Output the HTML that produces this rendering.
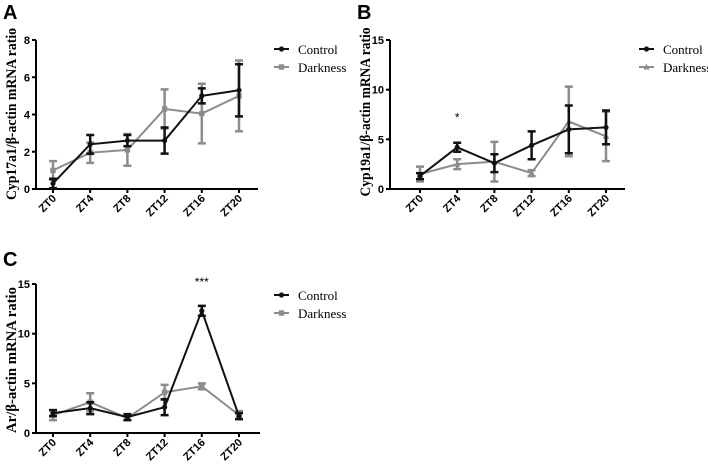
<!DOCTYPE html>
<html><head><meta charset="utf-8"><style>
body{margin:0;background:#fff;width:708px;height:469px;overflow:hidden}
svg{display:block}
</style></head><body>
<svg id="fig" width="708" height="469" xmlns="http://www.w3.org/2000/svg"></svg>
<script>
const categories=["ZT0","ZT4","ZT8","ZT12","ZT16","ZT20"];
const aControl=[0.3,2.4,2.6,2.6,5.0,5.3];
const aControlErr=[0.25,0.5,0.3,0.7,0.4,1.4];
const aDark=[1.0,1.95,2.1,4.3,4.05,5.0];
const aDarkErr=[0.5,0.55,0.85,1.05,1.6,1.9];
const aTicks=[0,2,4,6,8];
const bControl=[1.3,4.2,2.6,4.4,6.0,6.2];
const bControlErr=[0.3,0.45,0.9,1.4,2.4,1.7];
const bDark=[1.5,2.5,2.75,1.6,6.8,5.3];
const bDarkErr=[0.75,0.5,2.0,0.3,3.5,2.5];
const bTicks=[0,5,10,15];
const cControl=[2.0,2.5,1.6,2.6,12.3,1.7];
const cControlErr=[0.3,0.6,0.3,0.8,0.5,0.3];
const cDark=[1.8,3.1,1.5,4.1,4.7,1.8];
const cDarkErr=[0.5,0.9,0.2,0.75,0.3,0.4];
const cTicks=[0,5,10,15];

const NS="http://www.w3.org/2000/svg";
const svg=document.getElementById('fig');
function mk(tag,attrs,parent,text){const e=document.createElementNS(NS,tag);for(const k in attrs)e.setAttribute(k,attrs[k]);if(text!==undefined)e.textContent=text;(parent||svg).appendChild(e);return e;}

function panel(o){
  const g=mk('g',{});
  
  
  const ymax=o.ticks[o.ticks.length-1];
  const y=v=>o.y0-(v/ymax)*(o.y0-o.yTop);
  const x=i=>o.x0+i*37.2;
  const lab=mk('text',{x:o.lx,y:o.ly,'font-family':'Liberation Sans, sans-serif','font-weight':'bold','font-size':20},g,o.letter);
  
  
  const t=mk('text',{transform:`translate(${o.ax-20},${o.titleY}) rotate(-90)`,'text-anchor':'middle','font-family':'Liberation Serif, serif','font-weight':'bold','font-size':15,textLength:o.titleLen,lengthAdjust:'spacingAndGlyphs'},g,o.title);
  
  
  const ya=mk('line',{x1:o.ax,x2:o.ax,y1:o.yTop,y2:o.y0+1,stroke:'#000','stroke-width':2},g);
  
  
  const xa=mk('line',{x1:o.ax-1,x2:o.xEnd,y1:o.y0,y2:o.y0,stroke:'#000','stroke-width':2},g);
  
  
  o.ticks.forEach(v=>{
    mk('line',{x1:o.ax-4,x2:o.ax,y1:y(v),y2:y(v),stroke:'#000','stroke-width':2},g);
    const tl=mk('text',{x:o.ax-6,y:y(v)+4,'text-anchor':'end','font-family':'Liberation Sans, sans-serif','font-weight':'bold','font-size':11},g,v);
    
    
  });
  categories.forEach((c,i)=>{
    mk('line',{x1:x(i),x2:x(i),y1:o.y0,y2:o.y0+4,stroke:'#000','stroke-width':2},g);
    const tl=mk('text',{transform:`translate(${x(i)+4},${o.y0+10}) rotate(-45)`,'text-anchor':'end','font-family':'Liberation Sans, sans-serif','font-weight':'bold','font-size':11},g,c);
    
    
  });
  const series=[{v:o.dark,e:o.darkErr,col:'#8c8c8c',m:o.darkMarker,name:'darkness'},{v:o.ctrl,e:o.ctrlErr,col:'#111',m:'circle',name:'control'}];
  series.forEach(s=>{
    const sg=mk('g',{},g);
    
    
    const p=mk('polyline',{points:s.v.map((v,i)=>x(i)+','+y(v)).join(' '),fill:'none',stroke:s.col,'stroke-width':2},sg);
    
    
    s.v.forEach((v,i)=>{
      const hi=y(v+s.e[i]),lo=y(Math.max(0,v-s.e[i]));
      const eb=mk('path',{d:`M${x(i)},${hi}V${lo}M${x(i)-4},${hi}h8M${x(i)-4},${lo}h8`,stroke:s.col,'stroke-width':2.5,fill:'none'},sg);
      
      
      marker(sg,s.m,x(i),y(v),s.col,s.name+'-point');
    });
  });
  [['Control','#111','circle'],['Darkness','#8c8c8c',o.darkMarker]].forEach((L,k)=>{
    const ly=o.legY+k*18;
    const lg=mk('g',{},g);
    
    
    mk('line',{x1:o.legX,x2:o.legX+15,y1:ly,y2:ly,stroke:L[1],'stroke-width':2},lg);
    marker(lg,L[2],o.legX+7.5,ly,L[1],'legend-marker');
    mk('text',{x:o.legX+24,y:ly+5,'font-family':'Liberation Serif, serif','font-size':13},lg,L[0]);
  });
  (o.stars||[]).forEach(s=>{
    const st=mk('text',{x:x(s.i),y:y(s.v)+4,'text-anchor':'middle','font-family':'Liberation Sans, sans-serif','font-size':12},g,s.t);
    
    
  });
}
function marker(p,type,cx,cy,col,name){
  let e;
  if(type==='circle')e=mk('circle',{cx,cy,r:2.6,fill:col},p);
  else if(type==='square')e=mk('rect',{x:cx-2.7,y:cy-2.7,width:5.4,height:5.4,fill:col},p);
  else e=mk('path',{d:`M${cx},${cy-3.2}L${cx+3.2},${cy+2.5}L${cx-3.2},${cy+2.5}Z`,fill:col},p);
  
  
}
panel({letter:'A',lx:3,ly:19,title:'Cyp17a1/β-actin mRNA ratio',titleY:114,titleLen:172,ticks:aTicks,ax:36,x0:53,y0:189,yTop:40,xEnd:258,ctrl:aControl,ctrlErr:aControlErr,dark:aDark,darkErr:aDarkErr,darkMarker:'square',legX:274,legY:49});
panel({letter:'B',lx:357,ly:19,title:'Cyp19a1/β-actin mRNA ratio',titleY:112,titleLen:169,ticks:bTicks,ax:390,x0:420,y0:189,yTop:40,xEnd:625,ctrl:bControl,ctrlErr:bControlErr,dark:bDark,darkErr:bDarkErr,darkMarker:'triangle',legX:639,legY:49,stars:[{i:1,v:7.2,t:'*'}]});
panel({letter:'C',lx:3,ly:266,title:'Ar/β-actin mRNA ratio',titleY:360,titleLen:146,ticks:cTicks,ax:36,x0:53,y0:433,yTop:284,xEnd:260,ctrl:cControl,ctrlErr:cControlErr,dark:cDark,darkErr:cDarkErr,darkMarker:'square',legX:274,legY:295,stars:[{i:4,v:15.2,t:'***'}]});
</script>
</body></html>
